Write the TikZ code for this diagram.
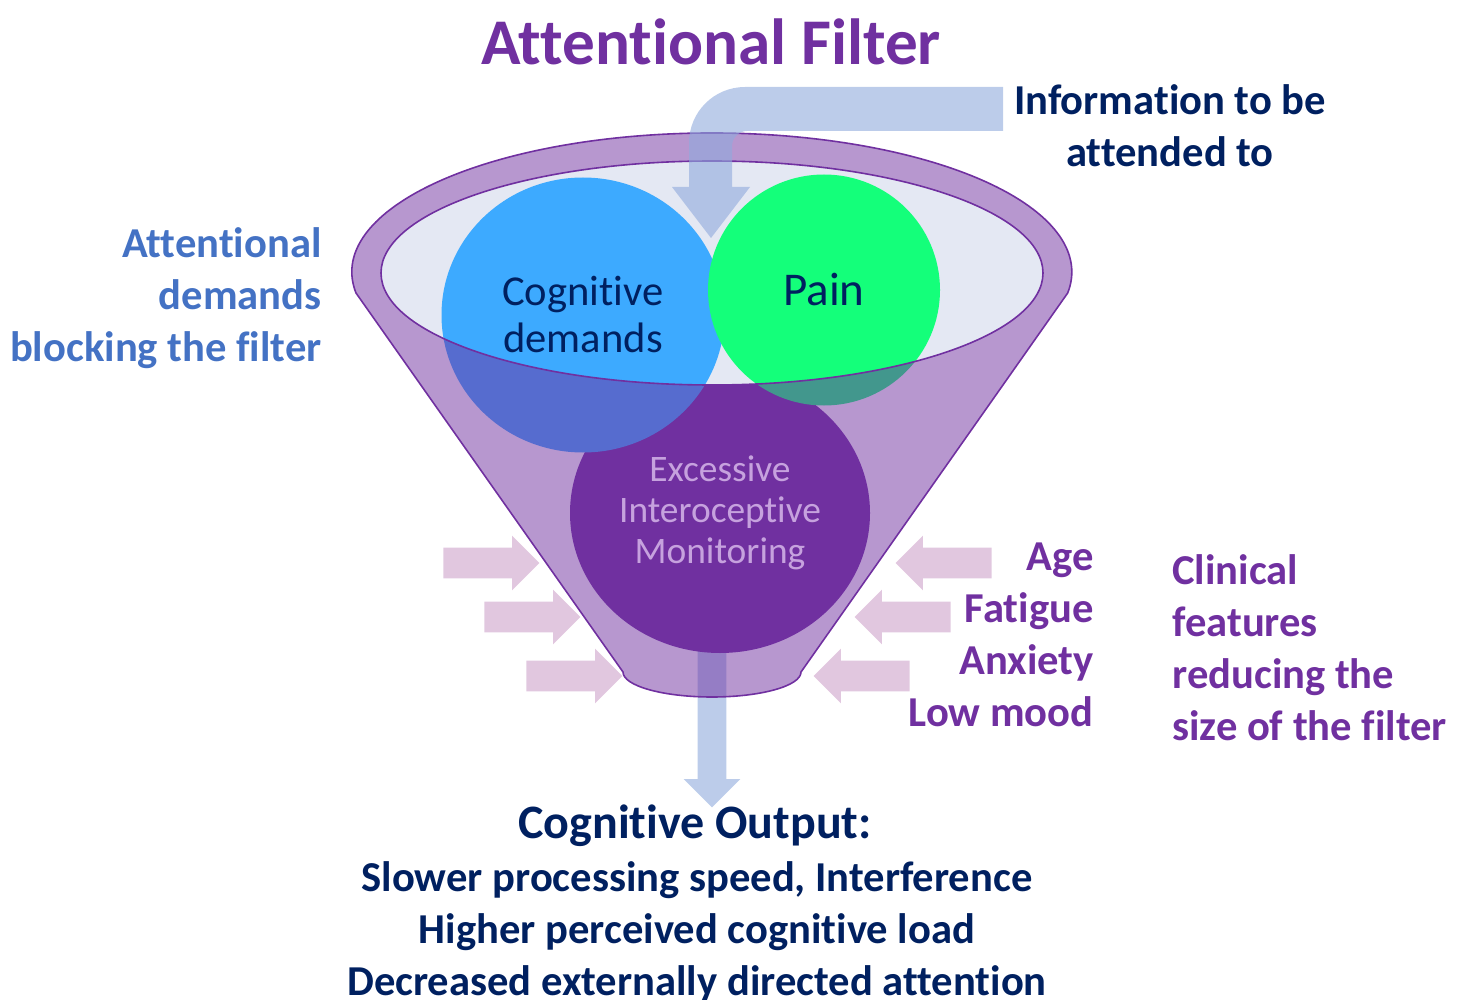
\documentclass[tikz,border=0pt]{standalone}
\usepackage{fontspec}
\setmainfont{Carlito}[Ligatures=NoCommon]
\usetikzlibrary{shapes.geometric, shapes.arrows, positioning}

\definecolor{filterpurple}{HTML}{7030A0}
\definecolor{navy}{HTML}{002060}
\definecolor{demandblue}{HTML}{4472C4}
\definecolor{cogblue}{HTML}{3DAAFF}
\definecolor{paingreen}{HTML}{14FF7A}
\definecolor{flowblue}{HTML}{8FAADC}
\definecolor{bowlfill}{HTML}{E4E8F3}
\definecolor{featpink}{HTML}{E1C7DF}
\definecolor{monitortext}{HTML}{C6A2DE}

\begin{document}
\begin{tikzpicture}[
  x=0.5pt, y=-0.5pt,
  bigtxt/.style={font=\fontsize{21.3}{26}\selectfont\bfseries, align=center, inner sep=0pt},
  circtxt/.style={font=\fontsize{21.3}{23.5}\selectfont, text=navy, align=center, inner sep=0pt},
  blob/.style={ellipse, draw=none, inner sep=0pt},
  featarrow/.style={single arrow, fill=featpink, draw=none, inner sep=0pt,
                    text height=7.5pt, text depth=7.5pt, minimum height=48pt,
                    single arrow head extend=6pt},
  funnel/.style={fill=filterpurple, fill opacity=0.5, draw=filterpurple,
                 line width=0.8pt, even odd rule}
]
\useasboundingbox (0,0) rectangle (1467,1000);

% Output arrow (sits under the funnel)
\node[single arrow, fill=flowblue, fill opacity=0.6, inner sep=0pt,
      text height=7pt, text depth=7pt, minimum height=84pt, single arrow head extend=7pt,
      rotate=-90, anchor=tip] (outarrow) at (712,808) {};

% Monitoring blob, partly hidden by the bowl
\node[blob, fill=filterpurple, minimum width=150pt, minimum height=140pt] (monitor) at (720,513) {};

% Bowl of the filter
\fill[bowlfill] (712,273) ellipse[x radius=331, y radius=112];

% Demands inside the bowl
\node[blob, fill=cogblue, minimum width=141.5pt, minimum height=137.5pt] (cog) at (583,315) {};
\node[blob, fill=paingreen, minimum width=116pt, minimum height=115.5pt] (pain) at (824,290) {};

% Funnel body (front), bowl cut out
\path[funnel] (356,293) arc[start angle=171.3, end angle=368.7, x radius=360, y radius=139]
  -- (801,672) arc[start angle=0, end angle=180, x radius=89, y radius=25] -- cycle
  (712,273) ellipse[x radius=331, y radius=112];

% Incoming information arrow
\fill[flowblue, fill opacity=0.6] (1003,87) -- (745,87)
  .. controls (714,87) and (689,112) .. (689,143) -- (689,187) -- (672,187)
  -- (711,238) -- (750,187) -- (732,187) -- (732,146)
  .. controls (732,138) and (739,131) .. (747,131) -- (1003,131) -- cycle;

% Texts in the blobs
\node[circtxt] (cogtxt) at (cog) {Cognitive\\demands};
\node[circtxt, font=\fontsize{23.5}{26}\selectfont] (paintxt) at (pain) {Pain};
\node[circtxt, text=monitortext, font=\fontsize{18.7}{20.5}\selectfont] (montxt) at (monitor)
  {Excessive\\Interoceptive\\Monitoring};

% Clinical features squeezing the funnel
\node[featarrow, anchor=tip] (inA) at (540,563) {};
\node[featarrow, anchor=tip] (inB) at (581,617) {};
\node[featarrow, anchor=tip] (inC) at (623,676) {};
\node[featarrow, anchor=tip, shape border rotate=180] (inD) at (895,563) {};
\node[featarrow, anchor=tip, shape border rotate=180] (inE) at (854,617) {};
\node[featarrow, anchor=tip, shape border rotate=180] (inF) at (813,676) {};

% Labels
\node[font=\fontsize{32.6}{40}\selectfont\bfseries, text=filterpurple, inner sep=0pt] (title) at (711,42) {Attentional Filter};
\node[bigtxt, text=navy] (infotxt) at (1170,126) {Information to be\\attended to};
\node[bigtxt, text=demandblue, align=right, anchor=east] (blocktxt) at (322,298)
  {Attentional\\demands\\blocking the filter};
\node[bigtxt, text=filterpurple, align=right, anchor=east] (feattxt) at (1094,635)
  {Age\\Fatigue\\Anxiety\\Low mood};
\node[bigtxt, text=filterpurple, align=left, anchor=west] (clintxt) at (1172,648)
  {Clinical\\features\\reducing the\\size of the filter};

% Output
\node[font=\fontsize{24}{30}\selectfont\bfseries, text=navy, inner sep=0pt] (outhead) at (695,826) {Cognitive Output:};
\node[bigtxt, text=navy] (outtxt) at (697,932)
  {Slower processing speed, Interference\\Higher perceived cognitive load\\Decreased externally directed attention};

\end{tikzpicture}
\end{document}
